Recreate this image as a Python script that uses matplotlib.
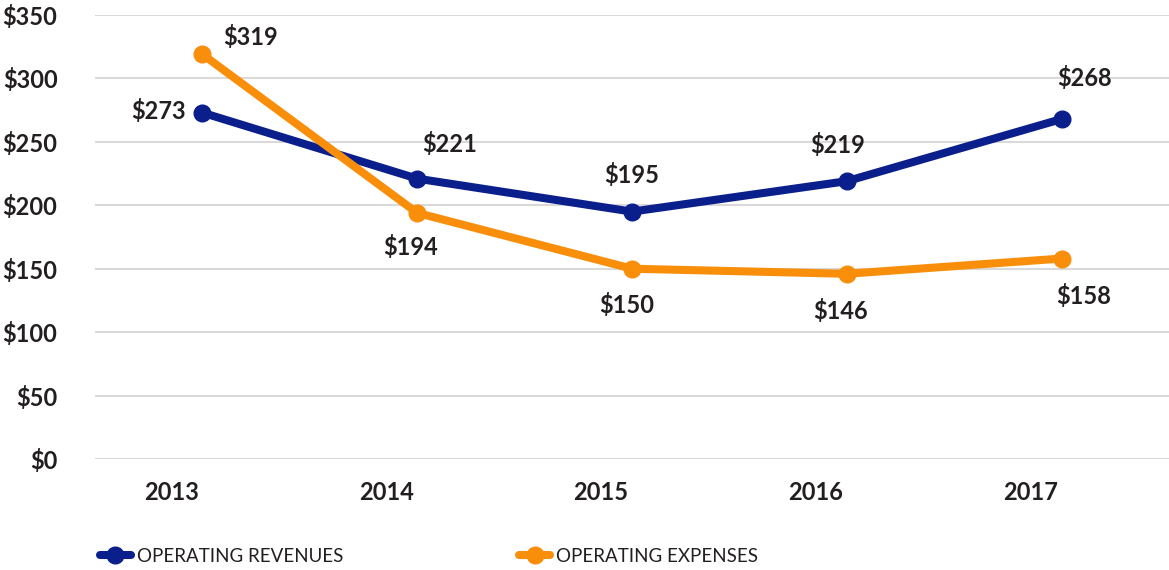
import matplotlib
matplotlib.use("Agg")
import matplotlib.pyplot as plt
from matplotlib.transforms import ScaledTranslation

years = ["2013", "2014", "2015", "2016", "2017"]
revenues = [273, 221, 195, 219, 268]
expenses = [319, 194, 150, 146, 158]
yticks = [0, 50, 100, 150, 200, 250, 300, 350]

navy = "#0a1f8c"
orange = "#f98e0b"
txt = "#231f20"

plt.rcParams['font.family'] = ['Lato', 'DejaVu Sans']

fig = plt.figure(figsize=(11.69, 5.70), dpi=100)
ax = fig.add_axes([95/1169, 1-459/570, 1-95/1169, (459-15)/570])

x = list(range(len(years)))
ax.plot(x, revenues, color=navy, lw=5.8, marker='o', ms=12, label="OPERATING REVENUES", zorder=3, solid_capstyle='round')
ax.plot(x, expenses, color=orange, lw=5.8, marker='o', ms=12, label="OPERATING EXPENSES", zorder=3, solid_capstyle='round')

rev_off = [(-44, 2), (32, 35), (0, 37), (-9, 36), (23, 41)]
exp_off = [(48, 17), (-7, -34), (-5, -36), (-6, -37), (22, -37)]
for i, v in enumerate(revenues):
    ax.annotate(f"${v}", (x[i], v), xytext=rev_off[i], textcoords='offset pixels',
                ha='center', va='center', fontsize=17, fontweight='bold', color=txt)
for i, v in enumerate(expenses):
    ax.annotate(f"${v}", (x[i], v), xytext=exp_off[i], textcoords='offset pixels',
                ha='center', va='center', fontsize=17, fontweight='bold', color=txt)

ax.set_xlim(-0.5, 4.5)
ax.set_ylim(0, 350)
ax.set_yticks(yticks)
ax.set_yticklabels([f"${t}" for t in yticks])
ax.set_xticks(x)
ax.set_xticklabels(years)
ax.grid(axis='y', color='#d9d9d9', lw=1.5)
ax.set_axisbelow(True)
for s in ax.spines.values():
    s.set_visible(False)
ax.tick_params(axis='both', length=0, labelsize=17, colors=txt)
ax.tick_params(axis='y', pad=27)
ax.tick_params(axis='x', pad=16)
shift = ScaledTranslation(-31/100, 0, fig.dpi_scale_trans)
for lab in ax.get_xticklabels():
    lab.set_fontweight('bold')
    lab.set_transform(lab.get_transform() + shift)
for lab in ax.get_yticklabels():
    lab.set_fontweight('bold')

leg = fig.legend(loc='center left', bbox_to_anchor=(100/1169, 1-556/570), ncol=2,
                 frameon=False, fontsize=13.5, handlelength=1.65, handletextpad=0.3,
                 columnspacing=9.4, borderaxespad=0, borderpad=0)
for t in leg.get_texts():
    t.set_color(txt)

fig.savefig("out.png", dpi=100)
